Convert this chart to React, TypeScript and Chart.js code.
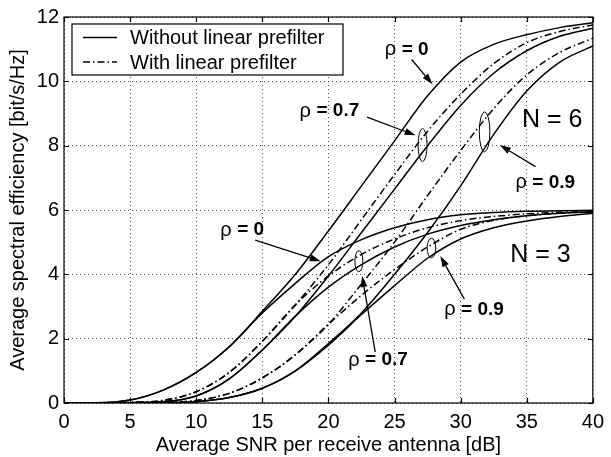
import React, { useEffect, useRef } from 'react';
import { Chart, registerables } from 'chart.js';

Chart.register(...registerables);

// ---------- data ----------
const snrDb = [0, 2.5, 5, 7.5, 10, 12.5, 15, 17.5, 20, 22.5, 25, 27.5, 30, 32.5, 35, 37.5, 40];

// N = 6
const n6Rho0 = [0, 0.005, 0.09, 0.4, 0.95, 1.75, 2.85, 4.0, 5.35, 6.75, 8.15, 9.55, 10.6, 11.15, 11.45, 11.67, 11.82];
const n6Rho07Pre = [0, 0, 0.02, 0.08, 0.35, 0.95, 1.92, 3.05, 4.3, 5.7, 7.1, 8.45, 9.6, 10.55, 11.2, 11.55, 11.75];
const n6Rho07 = [0, 0, 0.01, 0.04, 0.22, 0.75, 1.65, 2.7, 3.95, 5.3, 6.65, 8.0, 9.25, 10.25, 10.95, 11.4, 11.65];
const n6Rho09Pre = [0, 0, 0, 0.02, 0.08, 0.3, 0.78, 1.5, 2.45, 3.7, 5.0, 6.45, 7.85, 9.15, 10.2, 10.9, 11.34];
const n6Rho09 = [0, 0, 0, 0.01, 0.04, 0.17, 0.46, 1.0, 1.85, 2.8, 4.0, 5.3, 6.75, 8.35, 9.7, 10.6, 11.1];

// N = 3
const n3Rho0 = [0, 0.005, 0.09, 0.4, 0.95, 1.75, 2.8, 3.72, 4.55, 5.08, 5.45, 5.7, 5.85, 5.92, 5.96, 5.98, 5.99];
const n3Rho07Pre = [0, 0, 0.02, 0.08, 0.35, 0.95, 1.92, 3.05, 3.95, 4.62, 5.1, 5.45, 5.67, 5.8, 5.88, 5.93, 5.96];
const n3Rho07 = [0, 0, 0.01, 0.04, 0.22, 0.75, 1.65, 2.7, 3.6, 4.3, 4.85, 5.25, 5.52, 5.7, 5.82, 5.9, 5.94];
const n3Rho09Pre = [0, 0, 0, 0.02, 0.08, 0.3, 0.78, 1.5, 2.45, 3.35, 4.15, 4.85, 5.4, 5.68, 5.82, 5.9, 5.95];
const n3Rho09 = [0, 0, 0, 0.01, 0.04, 0.17, 0.46, 1.0, 1.8, 2.75, 3.65, 4.5, 5.1, 5.45, 5.66, 5.8, 5.9];

const xTicks = [0, 5, 10, 15, 20, 25, 30, 35, 40];
const yTicks = [0, 2, 4, 6, 8, 10, 12];

const legendLabels = ['Without linear prefilter', 'With linear prefilter'];

// annotations (data coordinates)
const rhoLabels = [
  { text: '0', x: 25.92, y: 10.99, ax0: 26.29, ay0: 10.68, ax1: 27.87, ay1: 9.91 },
  { text: '0.7', x: 20.07, y: 9.07, ax0: 22.92, ay0: 8.89, ax1: 26.59, ay1: 8.32 },
  { text: '0.9', x: 36.4, y: 6.85, ax0: 35.66, ay0: 7.35, ax1: 32.96, ay1: 8.02 },
  { text: '0', x: 13.48, y: 5.37, ax0: 14.46, ay0: 5.06, ax1: 19.42, ay1: 4.41 },
  { text: '0.7', x: 23.75, y: 1.33, ax0: 23.54, ay0: 1.58, ax1: 22.55, ay1: 3.95 },
  { text: '0.9', x: 31.01, y: 2.9, ax0: 30.28, ay0: 3.23, ax1: 28.46, ay1: 4.57 },
];
const ellipses = [
  { x: 27.12, y: 8.02, rx: 4.5, ry: 16.5 },
  { x: 31.81, y: 8.43, rx: 5.3, ry: 20 },
  { x: 22.3, y: 4.41, rx: 4, ry: 10.5 },
  { x: 27.79, y: 4.82, rx: 4.3, ry: 9.7 },
];
const groupLabels = [
  { text: 'N = 6', x: 36.93, y: 8.78 },
  { text: 'N = 3', x: 36.03, y: 4.6 },
];

const FONT = "'Liberation Sans', Arial, Helvetica, sans-serif";
const DASH_DOT = [7, 3, 1.5, 3];

function mk(label: string, data: number[], dashed: boolean) {
  return {
    label,
    data: snrDb.map((x, i) => ({ x, y: data[i] })),
    borderColor: '#000',
    borderWidth: 1.5,
    borderDash: dashed ? DASH_DOT : [],
    pointRadius: 0,
    fill: false,
    cubicInterpolationMode: 'monotone' as const,
  };
}

const decorPlugin = {
  id: 'decor',
  afterDatasetsDraw(chart: any) {
    const { ctx, chartArea, scales } = chart;
    const { left, right, top, bottom } = chartArea;
    const xs = scales.x;
    const ys = scales.y;
    ctx.save();
    ctx.strokeStyle = '#000';
    ctx.fillStyle = '#000';
    ctx.lineWidth = 1.2;
    ctx.setLineDash([]);
    // box
    ctx.strokeRect(left, top, right - left, bottom - top);
    // inner ticks
    ctx.beginPath();
    for (const t of xTicks) {
      const px = Math.round(xs.getPixelForValue(t)) + 0.5;
      ctx.moveTo(px, bottom); ctx.lineTo(px, bottom - 5);
      ctx.moveTo(px, top); ctx.lineTo(px, top + 5);
    }
    for (const t of yTicks) {
      const py = Math.round(ys.getPixelForValue(t)) + 0.5;
      ctx.moveTo(left, py); ctx.lineTo(left + 5, py);
      ctx.moveTo(right, py); ctx.lineTo(right - 5, py);
    }
    ctx.stroke();

    // ellipses
    ctx.lineWidth = 1;
    for (const e of ellipses) {
      ctx.beginPath();
      ctx.ellipse(xs.getPixelForValue(e.x), ys.getPixelForValue(e.y), e.rx, e.ry, 0, 0, Math.PI * 2);
      ctx.stroke();
    }

    // arrows and rho labels
    for (const r of rhoLabels) {
      const x0 = xs.getPixelForValue(r.ax0), y0 = ys.getPixelForValue(r.ay0);
      const x1 = xs.getPixelForValue(r.ax1), y1 = ys.getPixelForValue(r.ay1);
      const ang = Math.atan2(y1 - y0, x1 - x0);
      const hl = 11, hw = 3.5;
      const bx = x1 - hl * Math.cos(ang), by = y1 - hl * Math.sin(ang);
      ctx.lineWidth = 1.3;
      ctx.beginPath();
      ctx.moveTo(x0, y0); ctx.lineTo(bx, by);
      ctx.stroke();
      ctx.beginPath();
      ctx.moveTo(x1, y1);
      ctx.lineTo(bx + hw * Math.sin(ang), by - hw * Math.cos(ang));
      ctx.lineTo(bx - hw * Math.sin(ang), by + hw * Math.cos(ang));
      ctx.closePath();
      ctx.fill();

      const cx = xs.getPixelForValue(r.x), cy = ys.getPixelForValue(r.y);
      const p1 = '\u03c1 ';
      const p2 = '= ' + r.text;
      ctx.font = `20px ${FONT}`;
      const w1 = ctx.measureText(p1).width;
      ctx.font = `bold 19px ${FONT}`;
      const w2 = ctx.measureText(p2).width;
      const sx = cx - (w1 + w2) / 2;
      ctx.textBaseline = 'middle';
      ctx.textAlign = 'left';
      ctx.font = `20px ${FONT}`;
      ctx.fillText(p1, sx, cy);
      ctx.font = `bold 19px ${FONT}`;
      ctx.fillText(p2, sx + w1, cy);
    }

    // group labels
    ctx.font = `25px ${FONT}`;
    ctx.textAlign = 'center';
    ctx.textBaseline = 'middle';
    for (const g of groupLabels) {
      ctx.fillText(g.text, xs.getPixelForValue(g.x), ys.getPixelForValue(g.y));
    }

    // legend
    const lx = left + 8, ly = top + 7, lw = 271, lh = 51;
    ctx.fillStyle = '#fff';
    ctx.fillRect(lx, ly, lw, lh);
    ctx.strokeStyle = '#000';
    ctx.lineWidth = 1.2;
    ctx.strokeRect(lx, ly, lw, lh);
    ctx.fillStyle = '#000';
    ctx.font = `20px ${FONT}`;
    ctx.textAlign = 'left';
    ctx.textBaseline = 'middle';
    const rows = [ly + 13.5, ly + 38];
    legendLabels.forEach((lab, i) => {
      ctx.lineWidth = 1.3;
      ctx.setLineDash(i === 0 ? [] : DASH_DOT);
      ctx.beginPath();
      ctx.moveTo(lx + 11, rows[i]);
      ctx.lineTo(lx + 45, rows[i]);
      ctx.stroke();
      ctx.setLineDash([]);
      ctx.fillText(lab, lx + 58, rows[i] + 1);
    });
    ctx.restore();
  },
};

export default function App() {
  const ref = useRef<HTMLCanvasElement | null>(null);
  useEffect(() => {
    document.body.style.margin = '0';
    const canvas = ref.current;
    if (!canvas) return;
    const tickFont = { family: FONT, size: 20 };
    const chart = new Chart(canvas, {
      type: 'line',
      data: {
        datasets: [
          mk('N6 rho0', n6Rho0, false),
          mk('N6 rho0.7 prefilter', n6Rho07Pre, true),
          mk('N6 rho0.7', n6Rho07, false),
          mk('N6 rho0.9 prefilter', n6Rho09Pre, true),
          mk('N6 rho0.9', n6Rho09, false),
          mk('N3 rho0', n3Rho0, false),
          mk('N3 rho0.7 prefilter', n3Rho07Pre, true),
          mk('N3 rho0.7', n3Rho07, false),
          mk('N3 rho0.9 prefilter', n3Rho09Pre, true),
          mk('N3 rho0.9', n3Rho09, false),
        ],
      },
      options: {
        animation: false,
        responsive: false,
        devicePixelRatio: 1,
        layout: { padding: { top: 14, right: 13, left: 0, bottom: 0 } },
        plugins: { legend: { display: false }, tooltip: { enabled: false } },
        scales: {
          x: {
            type: 'linear',
            min: 0,
            max: 40,
            afterBuildTicks: (axis: any) => { axis.ticks = xTicks.map((v) => ({ value: v })); },
            ticks: { font: tickFont, color: '#000', padding: 7, maxRotation: 0 },
            grid: { color: 'rgba(0,0,0,0.7)', lineWidth: 1, drawTicks: false },
            border: { display: false, dash: [1, 3] },
            title: { display: true, text: 'Average SNR per receive antenna [dB]', font: { family: FONT, size: 20 }, color: '#000', padding: { top: 0, bottom: 0 } },
            afterFit: (axis: any) => { axis.height = 54; },
          },
          y: {
            type: 'linear',
            min: 0,
            max: 12,
            afterBuildTicks: (axis: any) => { axis.ticks = yTicks.map((v) => ({ value: v })); },
            ticks: { font: tickFont, color: '#000', padding: 5 },
            grid: { color: 'rgba(0,0,0,0.7)', lineWidth: 1, drawTicks: false },
            border: { display: false, dash: [1, 3] },
            title: { display: true, text: 'Average spectral efficiency [bit/s/Hz]', font: { family: FONT, size: 20 }, color: '#000', padding: { top: 6, bottom: 0 } },
            afterFit: (axis: any) => { axis.width = 64; },
          },
        },
      },
      plugins: [decorPlugin],
    } as any);
    return () => chart.destroy();
  }, []);
  return <canvas ref={ref} width={611} height={457} style={{ display: 'block' }} />;
}
